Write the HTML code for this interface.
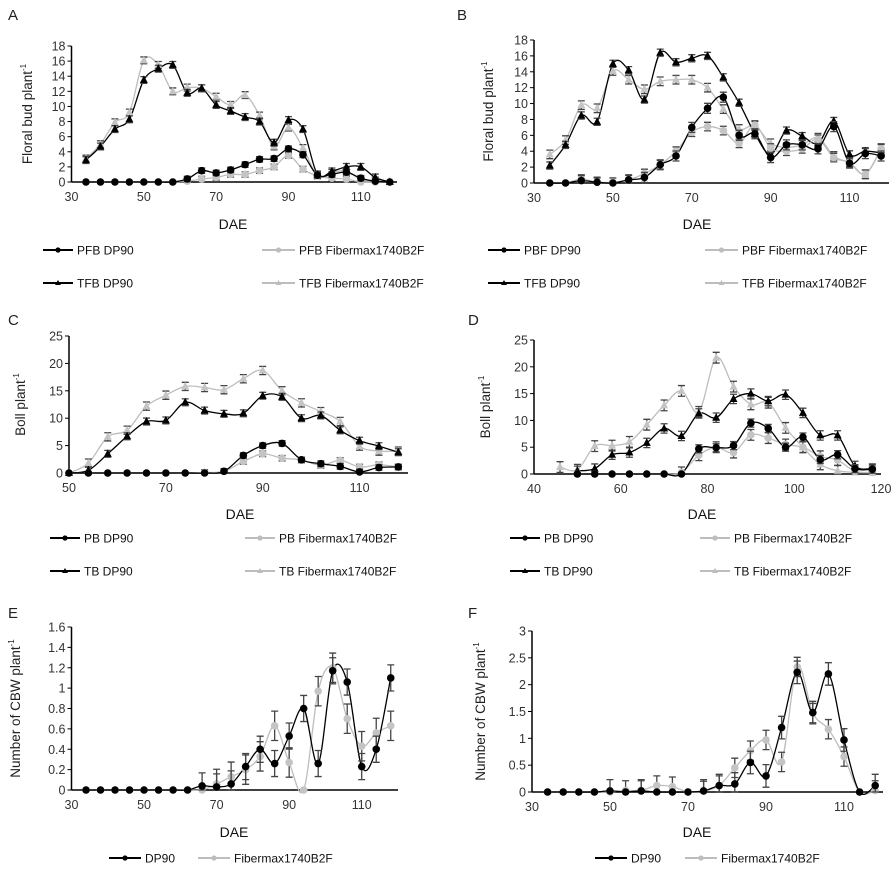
<!DOCTYPE html>
<html><head><meta charset="utf-8">
<style>
html,body{margin:0;padding:0;background:#fff;}
svg{display:block;font-family:"Liberation Sans",Arial,sans-serif;}
</style></head>
<body>
<svg id="s" width="896" height="873" viewBox="0 0 896 873" xmlns="http://www.w3.org/2000/svg"></svg>
<script>
const S=document.getElementById('s');let H='';
function rng(a,b,s){const r=[];for(let x=a;x<=b+1e-9;x+=s)r.push(x);return r;}
function path(pts){
 let d='M'+pts[0][0].toFixed(1)+','+pts[0][1].toFixed(1);
 for(let i=0;i<pts.length-1;i++){
  const p0=pts[i-1]||pts[i],p1=pts[i],p2=pts[i+1],p3=pts[i+2]||p2;
  const c1=[p1[0]+(p2[0]-p0[0])/6,p1[1]+(p2[1]-p0[1])/6];
  const c2=[p2[0]-(p3[0]-p1[0])/6,p2[1]-(p3[1]-p1[1])/6];
  d+=` C${c1[0].toFixed(1)},${c1[1].toFixed(1)} ${c2[0].toFixed(1)},${c2[1].toFixed(1)} ${p2[0].toFixed(1)},${p2[1].toFixed(1)}`;
 }
 return d;
}
function panel(P){
 const X=v=>P.x0+(v-P.xmin)*(P.x1-P.x0)/(P.xmax-P.xmin);
 const Y=v=>P.y0-(v-P.ymin)*(P.y0-P.y1)/(P.ymax-P.ymin);
 H+=`<line x1="${P.x0}" y1="${P.y1}" x2="${P.x0}" y2="${P.y0}" stroke="#000" stroke-width="1.5"/>`;
 H+=`<line x1="${P.x0}" y1="${P.y0}" x2="${P.x1}" y2="${P.y0}" stroke="#000" stroke-width="1.5"/>`;
 P.yt.forEach(t=>{const y=Y(t);H+=`<line x1="${P.x0-4}" y1="${y}" x2="${P.x0}" y2="${y}" stroke="#000"/><text x="${P.x0-6}" y="${y+4.5}" font-size="12.5" text-anchor="end" fill="#333">${t}</text>`;});
 P.xt.forEach(t=>{const x=X(t);H+=`<text x="${x}" y="${P.y0+19}" font-size="12.5" text-anchor="middle" fill="#333">${t}</text>`;});
 H+=`<text x="${P.dx}" y="${P.dy}" font-size="14" text-anchor="middle" fill="#111">DAE</text>`;
 H+=`<text transform="translate(${P.lx},${(P.y0+P.y1)/2}) rotate(-90)" font-size="13.5" text-anchor="middle" fill="#222">${P.ylab}<tspan font-size="8" dy="-6">-1</tspan></text>`;
 H+=`<text x="${P.px}" y="${P.py}" font-size="15" fill="#222">${P.L}</text>`;
 P.series.forEach(s=>{
  const pts=s.d.map((v,i)=>[X(s.xs[0]+i*4),Y(v)]).filter((p,i)=>s.d[i]!==null);
  H+=`<path d="${path(pts)}" fill="none" stroke="${s.c}" stroke-width="1.3"/>`;
 });
 P.series.forEach(s=>{
  s.d.forEach((v,i)=>{if(v===null)return;const x=X(s.xs[0]+i*4),y=Y(v);
   if(v>0){const e=(s.e||0.05)*(P.ymax-P.ymin);const ya=Y(v+e),yb=Y(Math.max(0,v-e));
    H+=`<path d="M${x},${ya}V${yb}M${x-3.5},${ya}h7M${x-3.5},${yb}h7" stroke="#444" stroke-width="1.3" fill="none"/>`;}
   if(s.m==='t')H+=`<path d="M${x},${y-4.5}L${x+4},${y+3}L${x-4},${y+3}Z" fill="${s.f}"/>`;
   else H+=`<circle cx="${x}" cy="${y}" r="3.8" fill="${s.f}"/>`;
  });
 });
 P.leg.forEach(l=>{
  H+=`<line x1="${l[0]}" y1="${l[1]}" x2="${l[2]}" y2="${l[1]}" stroke="${l[4]}" stroke-width="2"/>`;
  const cx=(l[0]+l[2])/2;
  if(l[5]==='t')H+=`<path d="M${cx},${l[1]-3}L${cx+3},${l[1]+2}L${cx-3},${l[1]+2}Z" fill="${l[4]}"/>`;
  else H+=`<circle cx="${cx}" cy="${l[1]}" r="2.6" fill="${l[4]}"/>`;
  H+=`<text x="${l[2]+4}" y="${l[1]+4.5}" font-size="12" fill="#111">${l[3]}</text>`;
 });
}
const K='#000',G='#bdbdbd',GL='#c4c4c4';
panel({x0:71.5,x1:397,xmin:30,xmax:120,y0:182,y1:46,ymin:0,ymax:18,yt:rng(0,18,2),xt:[30,50,70,90,110],
 dx:233,dy:229,lx:32,ylab:'Floral bud plant',L:'A',px:8,py:20,
 series:[
 {xs:[34],c:G,f:GL,m:'t',e:0.025,d:[3.1,5,7.9,9.2,16.1,15.5,12,12.5,12.4,11.3,10.2,11.5,8.8,4.7,7.2,4.5,0.9,1.2,1.5,0.3,0.2,0]},
 {xs:[34],c:K,f:K,m:'t',e:0.025,d:[2.9,4.7,7,8.3,13.5,15,15.5,11.8,12.4,10.2,9.4,8.6,8,5.2,8.2,7,1,1.4,2,2,0.6,0]},
 {xs:[34],c:G,f:GL,m:'c',e:0.02,d:[0,0,0,0,0,0,0,0.1,0.4,0.6,1,1,1.5,2,3.5,1.7,0.8,0.5,0.4,0,0,0]},
 {xs:[34],c:K,f:K,m:'c',e:0.02,d:[0,0,0,0,0,0,0,0.4,1.5,1.2,1.6,2.3,3,3.1,4.4,3.6,0.9,1,1.3,0.5,0.1,0]}],
 leg:[[43,250,73,'PFB DP90',K,'c'],[262,250,295,'PFB Fibermax1740B2F',G,'c'],[43,283,73,'TFB DP90',K,'t'],[262,283,295,'TFB Fibermax1740B2F',G,'t']]});
panel({x0:534,x1:889,xmin:30,xmax:120,y0:183,y1:40,ymin:0,ymax:18,yt:rng(0,18,2),xt:[30,50,70,90,110],
 dx:697,dy:229,lx:493,ylab:'Floral bud plant',L:'B',px:457,py:20,
 series:[
 {xs:[34],c:G,f:GL,m:'t',e:0.03,d:[3.6,5.4,9.8,9.4,14.1,13,11.8,12.8,13,13,12,9.3,6.8,7.2,5,4.5,4.8,5.7,3.4,2.5,1.1,4.4]},
 {xs:[34],c:K,f:K,m:'t',e:0.025,d:[2.2,4.8,8.5,7.7,15,14.2,10.5,16.4,15.2,15.7,16,13.3,10.1,6.2,3.6,6.6,5.9,5,7.8,3.6,4,3.8]},
 {xs:[34],c:G,f:GL,m:'c',e:0.03,d:[0,0,0.5,0.1,0.1,0.4,1.2,2.3,4,6.4,7.1,6.6,5,7.3,4.4,4,4.3,5.5,3.2,2.6,1.1,4.3]},
 {xs:[34],c:K,f:K,m:'c',e:0.035,d:[0,0,0.3,0.1,0,0.4,0.7,2.3,3.4,7,9.4,10.8,6,6.2,3.2,4.8,4.8,4.3,7.1,2.5,3.7,3.4]}],
 leg:[[488,250,520,'PBF DP90',K,'c'],[705,250,738,'PBF Fibermax1740B2F',G,'c'],[488,283,520,'TFB DP90',K,'t'],[705,283,738,'TFB Fibermax1740B2F',G,'t']]});
panel({x0:69,x1:408,xmin:50,xmax:120,y0:473,y1:336,ymin:0,ymax:25,yt:rng(0,25,5),xt:[50,70,90,110],
 dx:240,dy:519,lx:25,ylab:'Boll plant',L:'C',px:8,py:325,
 series:[
 {xs:[50],c:G,f:GL,m:'t',e:0.03,d:[0,1.8,6.6,7.8,12.2,14.2,15.8,15.6,15.2,17.2,18.7,15,12.8,11.2,9.4,4.9,4,4]},
 {xs:[50],c:K,f:K,m:'t',e:0.025,d:[0,0.5,3.5,6.7,9.4,9.6,12.9,11.4,10.8,10.9,14.1,13.9,10,10.5,7.8,5.9,4.9,3.8]},
 {xs:[50],c:G,f:GL,m:'c',e:0.02,d:[0,0,0,0,0,0,0,0.1,0.3,2.1,3.5,2.7,2.4,1.4,2.3,1.1,1.5,1.1]},
 {xs:[50],c:K,f:K,m:'c',e:0.02,d:[0,0,0,0,0,0,0,0,0.3,3.2,5,5.4,2.4,1.7,1.2,0.2,1,1.1]}],
 leg:[[50,538,80,'PB DP90',K,'c'],[245,538,275,'PB Fibermax1740B2F',G,'c'],[50,571,80,'TB DP90',K,'t'],[245,571,275,'TB Fibermax1740B2F',G,'t']]});
panel({x0:534,x1:881,xmin:40,xmax:120,y0:474,y1:340,ymin:0,ymax:25,yt:rng(0,25,5),xt:[40,60,80,100,120],
 dx:702,dy:519,lx:490,ylab:'Boll plant',L:'D',px:468,py:325,
 series:[
 {xs:[46],c:G,f:GL,m:'t',e:0.04,d:[1.3,0.8,5.2,5.3,6,9.2,12.8,15.5,11.6,21.7,16.3,13,13.3,8.6,5,1.8,0.6,0.3,0.2]},
 {xs:[50],c:K,f:K,m:'t',e:0.035,d:[0.6,1,3.6,4,5.8,8.5,7.1,11.3,10.5,14,15,13.6,14.8,11.4,7.2,7.2,1.5,1]},
 {xs:[50],c:G,f:GL,m:'c',e:0.04,d:[0,0,0,0,0,0,0.3,3.5,5,4,7.3,6.7,5.5,5,3.3,2.6,0.5,0.3]},
 {xs:[50],c:K,f:K,m:'c',e:0.03,d:[0,0,0,0,0,0,0,4.7,4.9,5.3,9.5,8.5,5,6.9,2.7,3.6,1,0.9]}],
 leg:[[510,538,540,'PB DP90',K,'c'],[700,538,730,'PB Fibermax1740B2F',G,'c'],[510,571,540,'TB DP90',K,'t'],[700,571,730,'TB Fibermax1740B2F',G,'t']]});
panel({x0:71.5,x1:398,xmin:30,xmax:120,y0:790,y1:627,ymin:0,ymax:1.6,yt:[0,0.2,0.4,0.6,0.8,1,1.2,1.4,1.6],xt:[30,50,70,90,110],
 dx:234,dy:837,lx:20,ylab:'Number of CBW plant',L:'E',px:8,py:618,
 series:[
 {xs:[34],c:G,f:GL,m:'c',e:0.09,d:[0,0,0,0,0,0,0,0,0,0.06,0.13,0.2,0.33,0.63,0.27,0,0.97,1.2,0.7,0.43,0.56,0.63]},
 {xs:[34],c:K,f:K,m:'c',e:0.08,d:[0,0,0,0,0,0,0,0,0.04,0.03,0.06,0.23,0.4,0.26,0.53,0.8,0.26,1.17,1.06,0.23,0.4,1.1]}],
 leg:[[109,858,141,'DP90',K,'c'],[198,858,230,'Fibermax1740B2F',G,'c']]});
panel({x0:532,x1:883,xmin:30,xmax:120,y0:792,y1:631,ymin:0,ymax:3,yt:[0,0.5,1,1.5,2,2.5,3],xt:[30,50,70,90,110],
 dx:697,dy:837,lx:485,ylab:'Number of CBW plant',L:'F',px:468,py:618,
 series:[
 {xs:[34],c:G,f:GL,m:'c',e:0.06,d:[0,0,0,0,0,0.03,0.03,0.12,0.1,0,0.02,0.12,0.45,0.77,0.97,0.56,2.33,1.47,1.17,0.66,0,0.03]},
 {xs:[34],c:K,f:K,m:'c',e:0.07,d:[0,0,0,0,0.02,0,0.02,0,0,0,0.02,0.12,0.15,0.55,0.3,1.2,2.23,1.48,2.2,0.97,0,0.12]}],
 leg:[[595,858,627,'DP90',K,'c'],[685,858,717,'Fibermax1740B2F',G,'c']]});
S.innerHTML=H;
</script>
</body></html>
